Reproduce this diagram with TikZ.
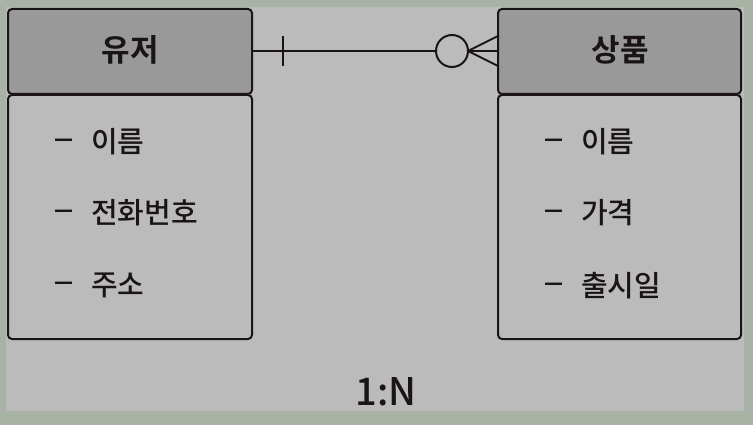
\documentclass[tikz,border=0pt]{standalone}
\usepackage{fontspec}
\usetikzlibrary{calc}
\newfontfamily\kr{Noto Sans CJK KR Medium}
\newfontfamily\krb{Noto Sans CJK KR Bold}
\newfontfamily\dashfont{DejaVu Sans Bold}
\definecolor{outerbg}{HTML}{A9B3A5}
\definecolor{innerbg}{HTML}{BBBBBB}
\definecolor{headfill}{HTML}{999999}
\definecolor{ink}{HTML}{1A1414}
\newcommand{\attrdash}{\makebox[37pt][l]{\raisebox{7pt}{\dashfont\fontsize{19}{19}\selectfont —}}}
\tikzset{
  headbox/.style={draw=ink, line width=2pt, fill=headfill, rounded corners=4pt},
  bodybox/.style={draw=ink, line width=2pt, fill=innerbg, rounded corners=4pt},
  headtext/.style={font=\krb\fontsize{31}{33}\selectfont, text=ink},
  attr/.style={font=\kr\fontsize{29}{31}\selectfont, text=ink, anchor=west, inner sep=0pt},
  conn/.style={draw=ink, line width=2pt}
}
\begin{document}
\begin{tikzpicture}[x=1pt,y=-1pt]
\useasboundingbox (0,0) rectangle (753,425);
\fill[outerbg] (0,0) rectangle (753,425);
\fill[innerbg] (6,7) rectangle (744,411);
% left entity
\draw[bodybox] (8,95) rectangle (252,339);
\draw[headbox] (8,9) rectangle (252,94);
\node[headtext] (user) at (130,50) {유저};
\node[attr] (u1) at (54,142) {\attrdash 이름};
\node[attr] (u2) at (54,213) {\attrdash 전화번호};
\node[attr] (u3) at (54,285) {\attrdash 주소};
% right entity
\draw[bodybox] (498,95) rectangle (741,339);
\draw[headbox] (498,9) rectangle (741,94);
\node[headtext] (prod) at (620,50) {상품};
\node[attr] (p1) at (544,142) {\attrdash 이름};
\node[attr] (p2) at (544,213) {\attrdash 가격};
\node[attr] (p3) at (544,286) {\attrdash 출시일};
% connector
\coordinate (L) at (252,51);
\coordinate (R) at (498,51);
\coordinate (tick) at (283,51);
\coordinate (cc) at (452,51);
\coordinate (crow) at (468,51);
\draw[conn] (L) -- ($(cc)+(-16,0)$);
\draw[conn] (crow) -- (R);
\draw[conn] ($(tick)+(0,-15)$) -- ($(tick)+(0,15)$);
\draw[conn] (cc) circle (16);
\draw[conn] (crow) -- ($(R)+(0,-15)$);
\draw[conn] (crow) -- ($(R)+(0,15)$);
\node[font=\kr\fontsize{38}{40}\selectfont, text=ink] (ratio) at (386,392) {1:N};
\end{tikzpicture}
\end{document}
